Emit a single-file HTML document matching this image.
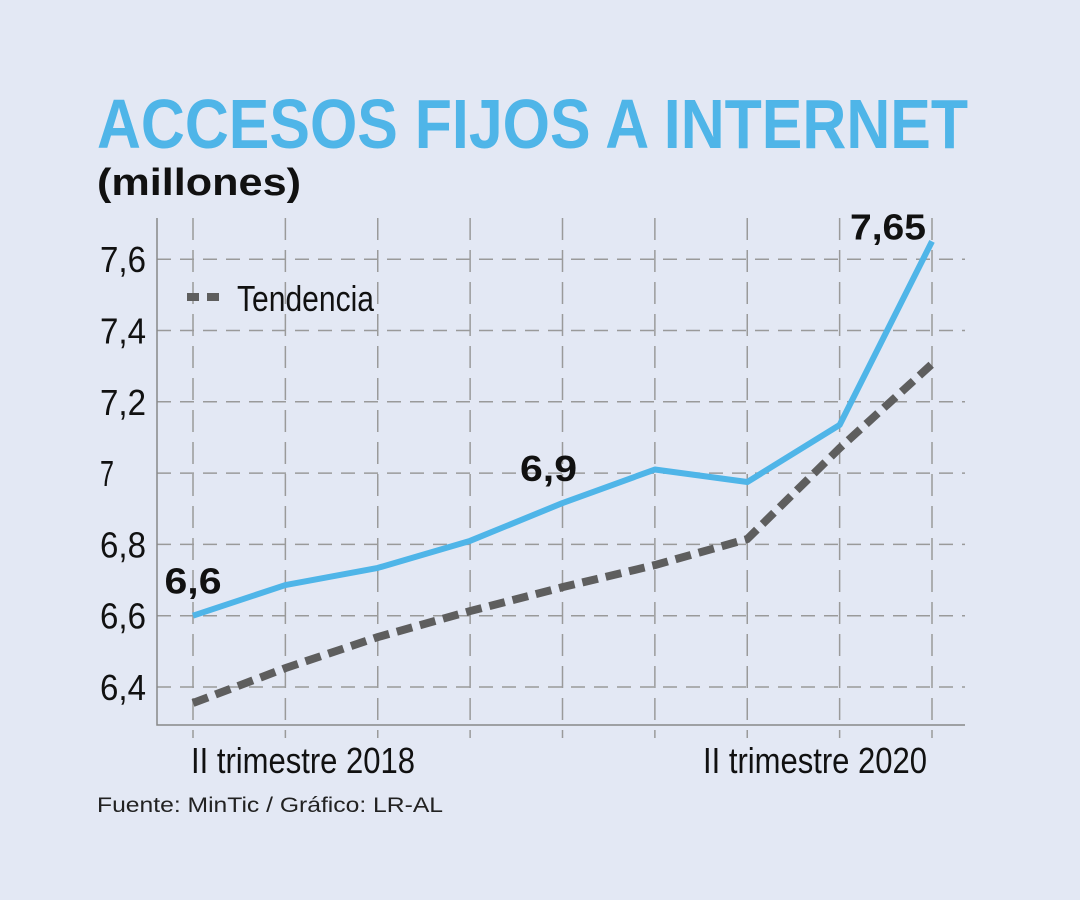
<!DOCTYPE html>
<html><head><meta charset="utf-8"><style>
body{margin:0;background:#e3e8f4;}
#wrap{position:relative;width:1080px;height:900px;background:#e3e8f4;overflow:hidden;font-family:"Liberation Sans",sans-serif;}
</style></head><body>
<div id="wrap">
<svg id="svg" width="1080" height="900">
<text x="97" y="148" font-family="Liberation Sans" font-weight="bold" font-size="70" fill="#4fb5e8" textLength="871" lengthAdjust="spacingAndGlyphs">ACCESOS FIJOS A INTERNET</text>
<text x="97" y="195" font-family="Liberation Sans" font-weight="bold" font-size="38" fill="#111" textLength="204" lengthAdjust="spacingAndGlyphs">(millones)</text>
<text x="97" y="812" font-family="Liberation Sans" font-size="21" fill="#222" textLength="346" lengthAdjust="spacingAndGlyphs">Fuente: MinTic / Gráfico: LR-AL</text>
<g id="grid"></g><g id="series"></g>
<g>
<line x1="187" y1="297" x2="225" y2="297" stroke="#5e5e5e" stroke-width="8" stroke-dasharray="12,8"/>
<text x="237" y="311" font-size="36" fill="#111" textLength="137" lengthAdjust="spacingAndGlyphs">Tendencia</text>
</g>
</svg>
</div>
<script>
const categories=["II trimestre 2018","III 2018","IV 2018","I 2019","II 2019","III 2019","IV 2019","I 2020","II trimestre 2020"];
const accesos=[6.60,6.686,6.734,6.81,6.916,7.01,6.975,7.135,7.65];
const tendencia=[6.355,6.453,6.54,6.613,6.68,6.742,6.815,7.07,7.306];
const yTicks=[6.4,6.6,6.8,7,7.2,7.4,7.6];
const yTickLabels=["6,4","6,6","6,8","7","7,2","7,4","7,6"];
const xTickLabels=["II trimestre 2018","","","","","","","","II trimestre 2020"];
const pointLabels=["6,6","","","","6,9","","","","7,65"];

const NS="http://www.w3.org/2000/svg";
const x=i=>193+i*(932-193)/(categories.length-1);
const y=v=>687-(v-6.4)*356.5;
function mk(tag,attrs,parent){const e=document.createElementNS(NS,tag);for(const k in attrs)e.setAttribute(k,attrs[k]);parent.appendChild(e);return e;}
const grid=document.getElementById('grid'),ser=document.getElementById('series');
yTicks.forEach((t,i)=>{
 const l=mk('line',{x1:157,x2:965,y1:y(t),y2:y(t),stroke:'#9a9a9a','stroke-width':1.5,'stroke-dasharray':'14,9'},grid);
 
 
 const tx=mk('text',{x:100,y:y(t)+13,'font-size':36,fill:'#111',textLength:yTickLabels[i].length>1?46:14,lengthAdjust:'spacingAndGlyphs'},grid);
 tx.textContent=yTickLabels[i];
 
 
});
categories.forEach((c,i)=>{
 const l=mk('line',{x1:x(i),x2:x(i),y1:218,y2:738,stroke:'#9a9a9a','stroke-width':1.5,'stroke-dasharray':'22,10'},grid);
 
 
 if(xTickLabels[i]){
  const tx=mk('text',{x:x(i)+(i===0?110:-117),y:773,'text-anchor':'middle','font-size':36,fill:'#111',textLength:224,lengthAdjust:'spacingAndGlyphs'},grid);
  tx.textContent=xTickLabels[i];
  
  
 }
});
const ax=mk('path',{d:'M157 218 V725 H965',fill:'none',stroke:'#888','stroke-width':1.5},grid);


const pts=a=>a.map((v,i)=>x(i)+','+y(v)).join(' ');
const tl=mk('polyline',{points:pts(tendencia),fill:'none',stroke:'#5e5e5e','stroke-width':8,'stroke-dasharray':'16,8'},ser);


const al=mk('polyline',{points:pts(accesos),fill:'none',stroke:'#4fb5e8','stroke-width':6,'stroke-linejoin':'round'},ser);


pointLabels.forEach((p,i)=>{
 if(!p)return;
 const dx=i===8?-6:(i===4?-14:0);
 const tx=mk('text',{x:x(i)+dx,y:y(accesos[i])-(i===8?2:22),'text-anchor':i===8?'end':'middle','font-size':36,'font-weight':'bold',fill:'#111',textLength:p.length*19,lengthAdjust:'spacingAndGlyphs'},ser);
 tx.textContent=p;
 
 
});
</script>
</body></html>
